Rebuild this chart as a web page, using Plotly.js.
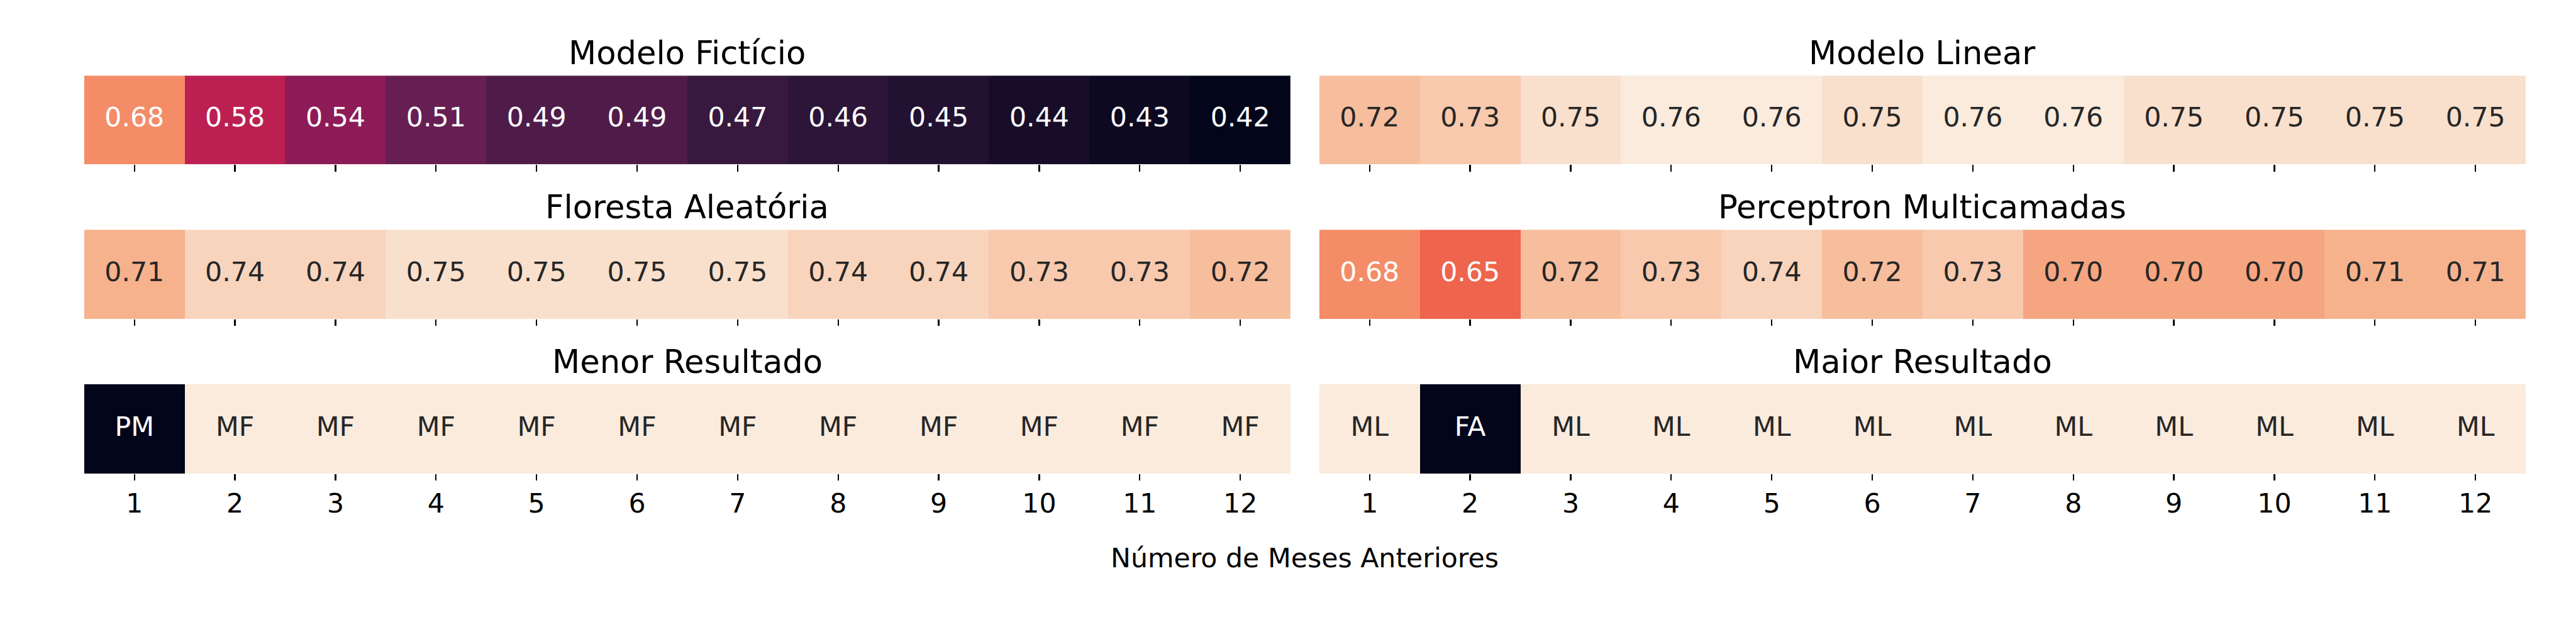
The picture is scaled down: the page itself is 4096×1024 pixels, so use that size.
<!DOCTYPE html>
<html>
<head>
<meta charset="utf-8">
<script src="https://cdn.plot.ly/plotly-3.0.1.min.js"></script>
<style>html,body{margin:0;padding:0;background:#fff;}#chart{width:4096px;height:1024px;}</style>
</head>
<body>
<div id="chart"></div>
<script>
// ---- data ----
const months = [1, 2, 3, 4, 5, 6, 7, 8, 9, 10, 11, 12];
const modeloFicticio = [0.68, 0.58, 0.54, 0.51, 0.49, 0.49, 0.47, 0.46, 0.45, 0.44, 0.43, 0.42];
const modeloLinear = [0.72, 0.73, 0.75, 0.76, 0.76, 0.75, 0.76, 0.76, 0.75, 0.75, 0.75, 0.75];
const florestaAleatoria = [0.71, 0.74, 0.74, 0.75, 0.75, 0.75, 0.75, 0.74, 0.74, 0.73, 0.73, 0.72];
const perceptron = [0.68, 0.65, 0.72, 0.73, 0.74, 0.72, 0.73, 0.70, 0.70, 0.70, 0.71, 0.71];
const menorResultado = ['PM', 'MF', 'MF', 'MF', 'MF', 'MF', 'MF', 'MF', 'MF', 'MF', 'MF', 'MF'];
const maiorResultado = ['ML', 'FA', 'ML', 'ML', 'ML', 'ML', 'ML', 'ML', 'ML', 'ML', 'ML', 'ML'];
const panelTitles = ['Modelo Fictício', 'Modelo Linear', 'Floresta Aleatória', 'Perceptron Multicamadas', 'Menor Resultado', 'Maior Resultado'];
const xTitle = 'Número de Meses Anteriores';

// ---- style ----
const S = 4096 / 6000;
const FONT = 'DejaVu Sans, Verdana, sans-serif';
const rocketStops = [
  [0, '#03051A'], [1/7, '#35193E'], [2/7, '#701F57'], [3/7, '#AD1759'],
  [4/7, '#E13342'], [5/7, '#F37651'], [6/7, '#F6B48F'], [1, '#FAEBDD']
];
function hexToRgb(h) { return [parseInt(h.slice(1,3),16), parseInt(h.slice(3,5),16), parseInt(h.slice(5,7),16)]; }
function rocketAt(t) {
  t = Math.max(0, Math.min(1, t));
  for (let i = 0; i < rocketStops.length - 1; i++) {
    const [t0, c0] = rocketStops[i], [t1, c1] = rocketStops[i+1];
    if (t <= t1) {
      const f = (t - t0) / (t1 - t0), a = hexToRgb(c0), b = hexToRgb(c1);
      return a.map((v, k) => v + (b[k] - v) * f);
    }
  }
  return hexToRgb(rocketStops[rocketStops.length-1][1]);
}
function textColorFor(t) {
  const rgb = rocketAt(t).map(v => { const c = v / 255; return c <= 0.03928 ? c / 12.92 : Math.pow((c + 0.055) / 1.055, 2.4); });
  const lum = 0.2126 * rgb[0] + 0.7152 * rgb[1] + 0.0722 * rgb[2];
  return lum > 0.408 ? '#262626' : '#FFFFFF';
}

// shared scale over the four numeric panels
const numeric = [modeloFicticio, modeloLinear, florestaAleatoria, perceptron];
const vmin = Math.min(...numeric.flat());
const vmax = Math.max(...numeric.flat());

function codesFor(labels) {
  const counts = {};
  labels.forEach(l => counts[l] = (counts[l] || 0) + 1);
  const common = Object.keys(counts).sort((a, b) => counts[b] - counts[a])[0];
  return labels.map(l => l === common ? 1 : 0);
}

const panels = [
  { z: modeloFicticio, text: modeloFicticio.map(v => v.toFixed(2)), zmin: vmin, zmax: vmax },
  { z: modeloLinear, text: modeloLinear.map(v => v.toFixed(2)), zmin: vmin, zmax: vmax },
  { z: florestaAleatoria, text: florestaAleatoria.map(v => v.toFixed(2)), zmin: vmin, zmax: vmax },
  { z: perceptron, text: perceptron.map(v => v.toFixed(2)), zmin: vmin, zmax: vmax },
  { z: codesFor(menorResultado), text: menorResultado, zmin: 0, zmax: 1 },
  { z: codesFor(maiorResultado), text: maiorResultado, zmin: 0, zmax: 1 }
];

// geometry (reference pixels, 6000x1500)
const colX = [[196, 3006], [3073, 5883]];
const rowY = [[176, 383], [535, 743], [895, 1103]];
const W = 6000, H = 1500;

const data = [];
const layout = {
  width: 4096, height: 1024,
  margin: { l: 0, r: 0, t: 0, b: 0 },
  paper_bgcolor: '#fff', plot_bgcolor: '#fff',
  showlegend: false,
  font: { family: FONT, color: '#000', size: 62.5 * S },
  annotations: []
};

panels.forEach((p, i) => {
  const r = Math.floor(i / 2), c = i % 2;
  const ax = i === 0 ? '' : String(i + 1);
  const xa = 'x' + ax, ya = 'y' + ax;
  data.push({
    type: 'heatmap', x: months, y: [0], z: [p.z],
    zmin: p.zmin, zmax: p.zmax, colorscale: rocketStops, showscale: false,
    xaxis: xa, yaxis: ya, hoverinfo: 'skip'
  });
  data.push({
    type: 'scatter', mode: 'text', x: months, y: months.map(() => 0),
    text: p.text, xaxis: xa, yaxis: ya, hoverinfo: 'skip',
    textfont: { family: FONT, size: 62.5 * S, color: p.z.map(v => textColorFor((v - p.zmin) / (p.zmax - p.zmin))) }
  });
  layout['xaxis' + ax] = {
    domain: [colX[c][0] / W, colX[c][1] / W], anchor: ya,
    range: [0.5, 12.5], tickmode: 'array', tickvals: months, ticktext: months.map(String),
    showticklabels: r === 2, ticks: 'outside', ticklen: 15 * S, tickwidth: 3.3 * S, tickcolor: '#000',
    showgrid: false, zeroline: false, showline: false, fixedrange: true,
    tickfont: { family: FONT, size: 62.5 * S, color: '#000' }
  };
  layout['yaxis' + ax] = {
    domain: [1 - rowY[r][1] / H, 1 - rowY[r][0] / H], anchor: xa,
    range: [-0.5, 0.5], showticklabels: false, ticks: '', showgrid: false, zeroline: false, showline: false, fixedrange: true
  };
  // panel title: baseline 25px (ref) above the axes
  const baseline = (rowY[r][0] - 25) * S;
  const boxBottom = baseline + 0.236 * 75 * S + 1;
  layout.annotations.push({
    text: panelTitles[i], xref: 'paper', yref: 'paper',
    x: (colX[c][0] + colX[c][1]) / 2 / W, y: 1 - boxBottom / 1024,
    xanchor: 'center', yanchor: 'bottom', showarrow: false,
    font: { family: FONT, size: 75 * S, color: '#000' }
  });
});

// shared x title
{
  const baseline = 1323 * S;
  const boxBottom = baseline + 0.236 * 62.5 * S + 1;
  layout.annotations.push({
    text: xTitle, xref: 'paper', yref: 'paper',
    x: (colX[0][0] + colX[1][1]) / 2 / W, y: 1 - boxBottom / 1024,
    xanchor: 'center', yanchor: 'bottom', showarrow: false,
    font: { family: FONT, size: 62.5 * S, color: '#000' }
  });
}

Plotly.newPlot('chart', data, layout, { staticPlot: true, displayModeBar: false });
</script>
</body>
</html>
